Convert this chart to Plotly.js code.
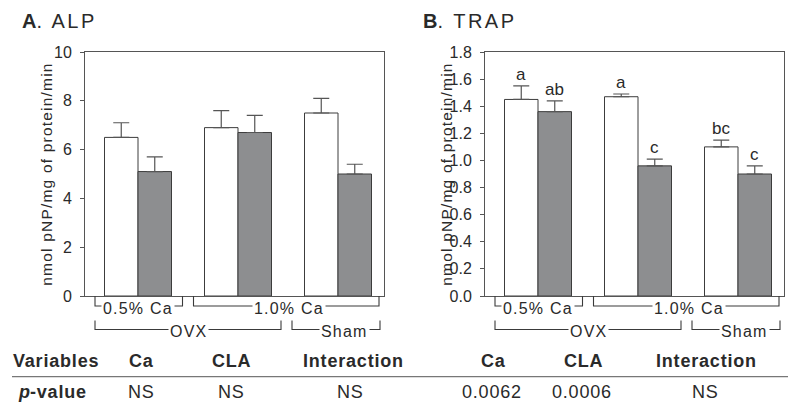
<!DOCTYPE html>
<html><head><meta charset="utf-8">
<script src="https://cdn.plot.ly/plotly-3.0.1.min.js"></script>
<style>body{margin:0;background:#fff}#chart{width:800px;height:413px}</style>
</head><body><div id="chart"></div>
<script>
// ---- data ----
const groupIdx = [0, 1, 2];
const alpCtrl = [6.5, 6.9, 7.5];
const alpCtrlErr = [0.6, 0.7, 0.6];
const alpCla = [5.1, 6.7, 5.0];
const alpClaErr = [0.6, 0.7, 0.4];
const trapCtrl = [1.45, 1.47, 1.10];
const trapCtrlErr = [0.10, 0.02, 0.05];
const trapCla = [1.36, 0.96, 0.90];
const trapClaErr = [0.08, 0.05, 0.06];
const trapLettersCtrl = ['a', 'a', 'bc'];
const trapLettersCla = ['ab', 'c', 'c'];
const alpTicks = [0, 2, 4, 6, 8, 10];
const trapTicks = [0, 0.2, 0.4, 0.6, 0.8, 1.0, 1.2, 1.4, 1.6, 1.8];
const tableHeaders = ['Ca', 'CLA', 'Interaction'];
const alpPvals = ['NS', 'NS', 'NS'];
const trapPvals = ['0.0062', '0.0006', 'NS'];

// ---- style ----
const FONT = 'Liberation Sans, Arial, sans-serif';
const TXT = '#2a2a2a';
const AX = '#555';
const GRAY = '#8d8e90';
const EDGE = '#3c3c3c';
const W = 800, H = 413;
const BARGAP = 0.33;
const half = (1 - BARGAP) / 4; // bar centre offset

function ls(t, s) { return '<span style="letter-spacing:' + s + 'px">' + t + '</span>'; }
function px(x) { return x / W; }
function py(y) { return 1 - y / H; }

function bars(xa, ya, vals, errs, fill) {
  return {
    type: 'bar', x: groupIdx, y: vals, xaxis: xa, yaxis: ya,
    marker: { color: fill, line: { color: EDGE, width: 1 } },
    error_y: { type: 'data', symmetric: false, array: errs, arrayminus: errs.map(() => 0),
      color: AX, thickness: 1.2, width: 8 },
    hoverinfo: 'skip', showlegend: false
  };
}

const data = [
  bars('x', 'y', alpCtrl, alpCtrlErr, '#ffffff'),
  bars('x', 'y', alpCla, alpClaErr, GRAY),
  bars('x2', 'y2', trapCtrl, trapCtrlErr, '#ffffff'),
  bars('x2', 'y2', trapCla, trapClaErr, GRAY)
];

const yDom = [py(296), py(52)];
function xax(dom) {
  return { domain: dom, range: [-0.53, 2.46], showticklabels: false, ticks: '',
    showgrid: false, zeroline: false, showline: true, mirror: true, linecolor: AX, linewidth: 1, fixedrange: true };
}
function yax(rng, ticks, fmt) {
  return { domain: yDom, range: rng, tickvals: ticks, ticktext: ticks.map(v => v.toFixed(fmt)),
    ticks: 'outside', ticklen: 4, tickcolor: AX, tickwidth: 1, ticklabelstandoff: 5,
    tickfont: { family: FONT, size: 16, color: TXT },
    showgrid: false, zeroline: false, showline: true, mirror: true, linecolor: AX, linewidth: 1, fixedrange: true };
}

const annotations = [];
const shapes = [];

// panel titles
annotations.push({ xref: 'paper', yref: 'paper', x: px(20), y: py(21), xanchor: 'left', yanchor: 'middle',
  text: '<b>A</b>' + ls('. ALP', 2.5), showarrow: false, font: { family: FONT, size: 20, color: TXT } });
annotations.push({ xref: 'paper', yref: 'paper', x: px(421), y: py(21), xanchor: 'left', yanchor: 'middle',
  text: '<b>B</b>' + ls('. TRAP', 2.5), showarrow: false, font: { family: FONT, size: 20, color: TXT } });

// y titles
[[46.7], [446.7]].forEach(([xx]) => {
  annotations.push({ xref: 'paper', yref: 'paper', x: px(xx), y: py(174), xanchor: 'center', yanchor: 'middle',
    textangle: -90, text: ls('nmol pNP/mg of protein/min', 1.2), showarrow: false,
    font: { family: FONT, size: 15.5, color: TXT } });
});

// letters above TRAP bars
groupIdx.forEach((g, i) => {
  annotations.push({ xref: 'x2', yref: 'y2', x: g - half, y: trapCtrl[i] + trapCtrlErr[i], yanchor: 'bottom',
    text: trapLettersCtrl[i], showarrow: false, font: { family: FONT, size: 17, color: TXT } });
  annotations.push({ xref: 'x2', yref: 'y2', x: g + half, y: trapCla[i] + trapClaErr[i], yanchor: 'bottom',
    text: trapLettersCla[i], showarrow: false, font: { family: FONT, size: 17, color: TXT } });
});

// grouping brackets under each panel
const LN = { color: '#3a3a3a', width: 1.1 };
function bracket(xr, x0, x1, yTop, yBot, label, lx) {
  shapes.push({ type: 'path', xref: xr, yref: 'paper',
    path: `M ${x0} ${py(yTop)} L ${x0} ${py(yBot)} L ${x1} ${py(yBot)} L ${x1} ${py(yTop)}`, line: LN });
  annotations.push({ xref: xr, yref: 'paper', x: lx, y: py(yBot + 2), xanchor: 'center', yanchor: 'middle',
    text: ls(label, 1.2), showarrow: false, bgcolor: '#ffffff', borderpad: 1,
    font: { family: FONT, size: 16, color: TXT } });
}
['x', 'x2'].forEach(xr => {
  bracket(xr, -0.43, 0.445, 296, 306, '0.5% Ca', 0.0);
  bracket(xr, 0.555, 2.41, 296, 306, '1.0% Ca', 1.51);
  bracket(xr, -0.43, 1.43, 320.5, 329.5, 'OVX', 0.5);
  bracket(xr, 1.54, 2.42, 320.5, 329.5, 'Sham', 2.06);
});

// table
const headerY = 361, valY = 392;
const TF = 18, TS = 0.8;
annotations.push({ xref: 'paper', yref: 'paper', x: px(11), y: py(headerY), xanchor: 'left', yanchor: 'middle',
  text: '<b>' + ls('Variables', TS) + '</b>', showarrow: false, font: { family: FONT, size: TF, color: TXT } });
annotations.push({ xref: 'paper', yref: 'paper', x: px(16), y: py(valY), xanchor: 'left', yanchor: 'middle',
  text: '<b><i>p</i>' + ls('-value', TS) + '</b>', showarrow: false, font: { family: FONT, size: TF, color: TXT } });
const hdrX = [[141, 231.7, 353.5], [493.3, 583.3, 706.3]];
const valX = [[141, 231, 350], [491.7, 581.7, 705]];
const pvals = [alpPvals, trapPvals];
[0, 1].forEach(p => {
  tableHeaders.forEach((h, i) => {
    annotations.push({ xref: 'paper', yref: 'paper', x: px(hdrX[p][i]), y: py(headerY), xanchor: 'center', yanchor: 'middle',
      text: '<b>' + ls(h, TS) + '</b>', showarrow: false, font: { family: FONT, size: TF, color: TXT } });
    annotations.push({ xref: 'paper', yref: 'paper', x: px(valX[p][i]), y: py(valY), xanchor: 'center', yanchor: 'middle',
      text: ls(pvals[p][i], TS), showarrow: false, font: { family: FONT, size: TF, color: TXT } });
  });
});
shapes.push({ type: 'line', xref: 'paper', yref: 'paper', x0: px(12), x1: px(788), y0: py(376.7), y1: py(376.7),
  line: { color: '#777', width: 1.3 } });

const layout = {
  width: W, height: H, margin: { l: 0, r: 0, t: 0, b: 0 },
  paper_bgcolor: '#fff', plot_bgcolor: '#fff',
  barmode: 'group', bargap: BARGAP, bargroupgap: 0,
  xaxis: xax([px(85), px(384)]), yaxis: yax([0, 10], alpTicks, 0),
  xaxis2: xax([px(485), px(784)]), yaxis2: Object.assign(yax([0, 1.8], trapTicks, 1), { anchor: 'x2' }),
  annotations, shapes, showlegend: false
};
layout.xaxis2.anchor = 'y2';
layout.yaxis.anchor = 'x';

Plotly.newPlot('chart', data, layout, { displayModeBar: false, staticPlot: true });
</script></body></html>
